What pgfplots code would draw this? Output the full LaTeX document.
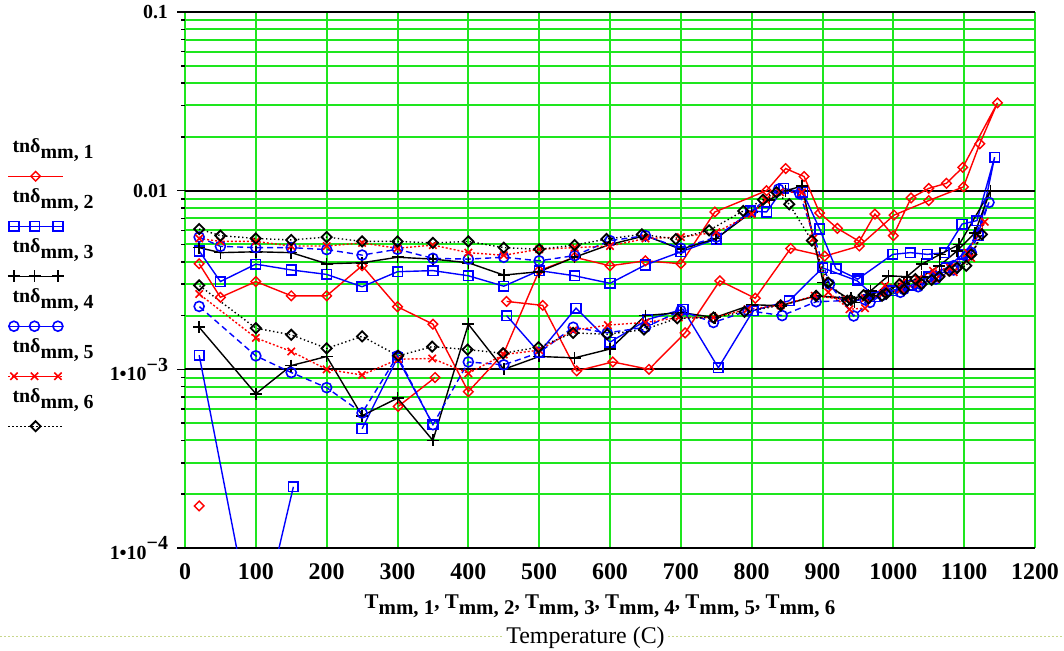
\documentclass[border=0pt]{standalone}
\usepackage{fontspec}
\setmainfont{Liberation Serif}
\usepackage{pgfplots}
\pgfplotsset{compat=1.18}
\definecolor{gridgreen}{RGB}{30,230,30}
\definecolor{sred}{RGB}{255,0,0}
\definecolor{sblue}{RGB}{0,0,255}
\newcommand\sub[1]{\raisebox{-0.65ex}{#1}}
\pgfplotsset{
  legone/.style={legend image code/.code={%
      \path (0pt,0pt);
      \draw[overlay,##1,mark=none] (0bp,-14bp) -- (27.5bp,-14bp);
      \path[overlay,##1] plot coordinates {(13.75bp,-14bp)};}},
  legthree/.style={legend image code/.code={%
      \path (0pt,0pt);
      \draw[overlay,##1,mark=none] (0bp,-14bp) -- (27.5bp,-14bp);
      \path[overlay,##1] plot coordinates {(2.9bp,-14bp) (13.2bp,-14bp) (24.9bp,-14bp)};}},
}
\begin{document}
\begin{tikzpicture}
\useasboundingbox (0,0) rectangle (532bp,325.5bp);
\begin{axis}[
  at={(92.5bp,51.5bp)}, anchor=south west,
  scale only axis, width=425bp, height=268bp,
  xmin=0, xmax=1200, ymin=1e-4, ymax=0.1, ymode=log,
  unbounded coords=jump,
  axis line style={draw=none},
  xtick={0,100,200,300,400,500,600,700,800,900,1000,1100,1200},
  xticklabels={0,100,200,300,400,500,600,700,800,900,1000,1100,1200},
  ytick={1e-4,1e-3,1e-2,1e-1},
  yticklabels={{1•10\raisebox{1ex}{−4}},{1•10\raisebox{1ex}{−3}},0.01,0.1},
  xmajorgrids, ymajorgrids, yminorgrids,
  x grid style={gridgreen, line width=1bp},
  major y grid style={black, line width=1bp},
  minor y grid style={gridgreen, line width=1bp},
  xtick style={draw=none},
  ytick pos=left, tick align=outside,
  major tick length=4bp, minor tick length=2bp,
  ytick style={black, line width=0.8bp},
  minor tick style={gridgreen, line width=0.8bp},
  xticklabel style={font=\bfseries\fontsize{12}{14}\selectfont, yshift=-0.5bp},
  yticklabel style={font=\bfseries\fontsize{10}{12}\selectfont, xshift=-1bp},
  xlabel={T\sub{mm, 1}, T\sub{mm, 2}, T\sub{mm, 3}, T\sub{mm, 4}, T\sub{mm, 5}, T\sub{mm, 6}},
  xlabel style={at={(axis description cs:0.4882,-0.112)}, anchor=base,
    font=\bfseries\fontsize{10.5}{12}\selectfont, inner sep=0pt},
  legend cell align=left,
  legend style={at={(axis description cs:-0.2094,0.769)}, anchor=north west,
    draw=none, fill=none, inner sep=0pt, column sep=1.85bp, row sep=13bp,
    nodes={inner sep=0pt, text height=8bp, text depth=4bp,
      font=\bfseries\fontsize{10}{12}\selectfont}},
]
% series 1
\addplot[sred, solid, line width=0.7bp, mark=square, mark size=1.7bp,
  mark options={rotate=45, solid, line width=0.7bp}, legone] table {
20 3.9e-3
50 2.53e-3
100 3.1e-3
150 2.58e-3
200 2.58e-3
250 3.8e-3
300 2.24e-3
350 1.79e-3
400 7.5e-4
450 1.23e-3
500 3.57e-3
550 4.24e-3
600 3.8e-3
650 4.05e-3
700 3.9e-3
748 7.6e-3
821 1.0e-2
848 1.33e-2
874 1.2e-2
896 7.5e-3
921 6.15e-3
952 5.2e-3
974 7.4e-3
1000 5.6e-3
1025 9.1e-3
1050 1.03e-2
1075 1.1e-2
1098 1.35e-2
1147 3.1e-2
1122 1.83e-2
1099 1.05e-2
1050 8.8e-3
1001 7.3e-3
952 4.9e-3
903 4.3e-3
855 4.75e-3
805 2.5e-3
755 3.13e-3
706 1.6e-3
655 1.0e-3
604 1.1e-3
553 9.8e-4
505 2.28e-3
454 2.4e-3
400 nan
353 9.0e-4
301 6.2e-4
250 nan
20 1.72e-4
};
\addlegendentry{tnδ\sub{mm, 1}}
% series 2
\addplot[sblue, solid, line width=0.7bp, mark=square, mark size=2.4bp,
  mark options={solid, line width=0.8bp}, legthree] table {
20 4.6e-3
50 3.1e-3
100 3.88e-3
150 3.6e-3
200 3.4e-3
250 2.9e-3
300 3.52e-3
350 3.57e-3
400 3.34e-3
450 2.92e-3
500 3.57e-3
550 3.34e-3
600 3.03e-3
650 3.84e-3
700 4.55e-3
750 5.36e-3
798 7.7e-3
821 7.6e-3
845 1.03e-2
872 9.8e-3
896 6.1e-3
919 3.66e-3
950 3.2e-3
999 4.4e-3
1024 4.5e-3
1048 4.4e-3
1072 4.5e-3
1097 6.5e-3
1118 6.8e-3
1143 1.54e-2
1120 5.6e-3
1098 4.4e-3
1075 3.7e-3
1050 3.3e-3
1025 2.95e-3
998 2.76e-3
974 2.55e-3
949 3.13e-3
900 3.7e-3
853 2.42e-3
802 2.13e-3
753 1.02e-3
703 2.17e-3
653 1.9e-3
600 1.42e-3
552 2.2e-3
500 1.24e-3
454 2.0e-3
400 nan
350 4.9e-4
300 1.16e-3
250 4.65e-4
200 nan
153 2.2e-4
100 2.8e-5
20 1.2e-3
};
\addlegendentry{tnδ\sub{mm, 2}}
% series 3
\addplot[black, solid, line width=0.7bp, mark=+, mark size=3bp,
  mark options={solid, line width=0.8bp}, legthree] table {
20 4.8e-3
50 4.5e-3
100 4.55e-3
150 4.5e-3
200 3.9e-3
250 3.95e-3
300 4.24e-3
350 4.14e-3
400 3.95e-3
450 3.37e-3
500 3.52e-3
550 4.24e-3
600 5.0e-3
650 5.6e-3
700 4.7e-3
750 5.4e-3
800 7.6e-3
825 8.9e-3
848 1.0e-2
871 1.06e-2
901 3.06e-3
945 2.37e-3
968 2.75e-3
993 3.34e-3
1019 3.3e-3
1040 3.88e-3
1066 4.4e-3
1093 5.0e-3
1137 1.0e-2
1115 5.8e-3
1090 4.6e-3
1065 3.8e-3
1040 3.3e-3
1015 3.0e-3
990 2.8e-3
965 2.6e-3
940 2.5e-3
891 2.58e-3
841 2.27e-3
800 2.3e-3
748 1.95e-3
700 2.08e-3
650 2.0e-3
600 1.3e-3
550 1.16e-3
500 1.18e-3
450 1.0e-3
400 1.79e-3
350 4.0e-4
300 6.9e-4
250 5.5e-4
200 1.18e-3
150 1.05e-3
100 7.3e-4
20 1.72e-3
};
\addlegendentry{tnδ\sub{mm, 3}}
% series 4
\addplot[sblue, dash pattern=on 3bp off 2bp, line width=0.7bp, mark=o, mark size=2.5bp,
  mark options={solid, line width=0.8bp}, legthree] table {
20 5.5e-3
50 4.88e-3
100 4.8e-3
150 4.8e-3
200 4.68e-3
250 4.36e-3
300 4.7e-3
350 4.18e-3
400 4.14e-3
450 4.24e-3
500 4.05e-3
550 4.33e-3
600 5.25e-3
650 5.6e-3
700 4.76e-3
750 5.5e-3
800 7.7e-3
838 1.02e-2
868 9.6e-3
910 3.0e-3
944 1.99e-3
967 2.37e-3
990 2.7e-3
1015 2.8e-3
1038 3.0e-3
1060 3.3e-3
1085 3.8e-3
1103 4.3e-3
1135 8.6e-3
1110 4.5e-3
1085 3.6e-3
1060 3.2e-3
1035 2.9e-3
1010 2.7e-3
985 2.6e-3
960 2.45e-3
891 2.39e-3
843 2.0e-3
795 2.13e-3
746 1.83e-3
700 2.13e-3
650 1.72e-3
596 1.6e-3
548 1.72e-3
500 1.24e-3
450 1.06e-3
400 1.1e-3
350 4.9e-4
300 1.19e-3
250 5.7e-4
200 7.9e-4
150 9.6e-4
100 1.19e-3
20 2.25e-3
};
\addlegendentry{tnδ\sub{mm, 4}}
% series 5
\addplot[sred, dash pattern=on 1bp off 1bp, line width=0.7bp, mark=x, mark size=2.6bp,
  mark options={solid, line width=0.8bp}, legthree] table {
20 5.4e-3
50 5.2e-3
100 5.2e-3
150 4.9e-3
200 4.9e-3
250 5.1e-3
300 4.76e-3
350 4.96e-3
400 4.5e-3
450 4.35e-3
500 4.7e-3
550 4.8e-3
600 4.9e-3
650 5.4e-3
700 5.5e-3
750 5.85e-3
800 7.4e-3
820 8.9e-3
840 9.8e-3
871 9.8e-3
887 5.4e-3
908 2.7e-3
938 2.17e-3
960 2.2e-3
988 2.94e-3
1012 3.06e-3
1035 3.2e-3
1056 3.56e-3
1080 3.7e-3
1105 4.5e-3
1129 6.7e-3
1110 4.2e-3
1085 3.5e-3
1060 3.2e-3
1035 3.0e-3
1010 2.8e-3
985 2.65e-3
960 2.5e-3
935 2.45e-3
889 2.58e-3
841 2.28e-3
794 2.17e-3
746 1.95e-3
697 1.95e-3
650 1.83e-3
597 1.77e-3
548 1.65e-3
500 1.28e-3
450 1.21e-3
400 9.5e-4
349 1.15e-3
301 1.14e-3
250 9.3e-4
200 1.0e-3
150 1.26e-3
100 1.5e-3
20 2.64e-3
};
\addlegendentry{tnδ\sub{mm, 5}}
% series 6
\addplot[black, dash pattern=on 0.7bp off 1.3bp, line width=0.7bp, mark=square, mark size=1.8bp,
  mark options={rotate=45, solid, line width=0.9bp}, legone] table {
20 6.1e-3
50 5.6e-3
100 5.4e-3
150 5.3e-3
200 5.5e-3
250 5.2e-3
300 5.2e-3
350 5.1e-3
400 5.2e-3
450 4.8e-3
500 4.7e-3
550 4.96e-3
595 5.36e-3
645 5.7e-3
693 5.36e-3
740 6.0e-3
788 7.7e-3
816 8.9e-3
835 9.8e-3
853 8.4e-3
885 5.25e-3
908 3.06e-3
935 2.42e-3
958 2.6e-3
984 2.58e-3
1009 3.0e-3
1031 3.2e-3
1054 3.17e-3
1079 3.56e-3
1103 3.8e-3
1125 5.7e-3
1110 4.4e-3
1090 3.7e-3
1065 3.3e-3
1040 3.0e-3
1015 2.8e-3
990 2.65e-3
965 2.5e-3
940 2.45e-3
891 2.58e-3
841 2.28e-3
790 2.1e-3
746 1.95e-3
695 1.93e-3
648 1.67e-3
596 1.57e-3
548 1.6e-3
499 1.33e-3
449 1.23e-3
399 1.29e-3
349 1.34e-3
301 1.19e-3
250 1.53e-3
200 1.31e-3
150 1.56e-3
100 1.7e-3
20 2.95e-3
};
\addlegendentry{tnδ\sub{mm, 6}}
\end{axis}
\draw[color={rgb,255:red,200;green,215;blue,140}, line width=0.5bp, dash pattern=on 1bp off 1bp] (0,7bp) -- (532bp,7bp);
\node[anchor=base, fill=white, inner sep=1bp, font=\fontsize{12}{14}\selectfont] at (292.75bp,3.8bp) {Temperature (C)};
\end{tikzpicture}
\end{document}
